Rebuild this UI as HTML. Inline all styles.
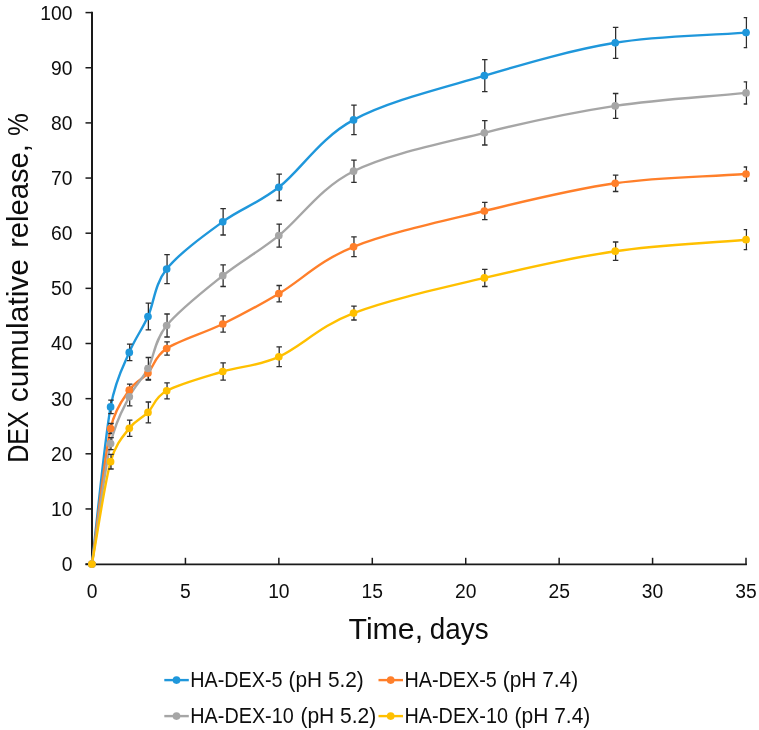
<!DOCTYPE html>
<html><head><meta charset="utf-8"><title>DEX cumulative release</title>
<style>
html,body{margin:0;padding:0;background:#fff;}
body{width:759px;height:730px;overflow:hidden;font-family:"Liberation Sans",sans-serif;}
svg{display:block;will-change:transform;}
</style></head><body>
<svg width="759" height="730" viewBox="0 0 759 730">
<defs><clipPath id="pc"><rect x="85" y="0" width="662.2" height="575"/></clipPath></defs>
<path d="M92,11.8 V565.2" stroke="#1a1a1a" stroke-width="2.0" fill="none"/>
<path d="M85.5,564.35 H746.8" stroke="#1a1a1a" stroke-width="1.7" fill="none"/>
<g stroke="#1a1a1a" stroke-width="1.5" fill="none">
<path d="M85.5,564.10 H92"/>
<path d="M85.5,508.95 H92"/>
<path d="M85.5,453.80 H92"/>
<path d="M85.5,398.65 H92"/>
<path d="M85.5,343.50 H92"/>
<path d="M85.5,288.35 H92"/>
<path d="M85.5,233.20 H92"/>
<path d="M85.5,178.05 H92"/>
<path d="M85.5,122.90 H92"/>
<path d="M85.5,67.75 H92"/>
<path d="M85.5,12.60 H92"/>
<path d="M92.00,557.8 V565.0"/>
<path d="M185.43,557.8 V565.0"/>
<path d="M278.86,557.8 V565.0"/>
<path d="M372.29,557.8 V565.0"/>
<path d="M465.72,557.8 V565.0"/>
<path d="M559.15,557.8 V565.0"/>
<path d="M652.58,557.8 V565.0"/>
<path d="M746.01,557.8 V565.0"/>
</g>
<path d="M91.90,564.10 C98.13,511.70 104.36,442.18 110.59,406.90 C115.60,378.53 124.27,364.51 129.28,352.40 C135.51,337.33 141.74,330.38 147.97,316.50 C154.20,302.62 154.20,284.88 166.66,269.10 C179.12,253.32 204.04,235.43 222.73,221.80 C241.42,208.17 257.00,204.28 278.80,187.30 C300.61,170.32 319.30,138.50 353.56,119.90 C387.83,101.30 440.78,88.55 484.39,75.70 C528.00,62.85 571.61,49.98 615.22,42.80 C658.83,35.62 702.44,36.00 746.05,32.60" fill="none" stroke="#1f97db" stroke-width="2.4" stroke-linejoin="round" stroke-linecap="round"/>
<path d="M110.99,400.20 V413.60 M108.24,400.20 h5.5 M108.24,413.60 h5.5 M129.68,344.20 V360.60 M126.93,344.20 h5.5 M126.93,360.60 h5.5 M148.37,303.20 V329.80 M145.62,303.20 h5.5 M145.62,329.80 h5.5 M167.06,254.60 V283.60 M164.31,254.60 h5.5 M164.31,283.60 h5.5 M223.13,208.60 V235.00 M220.38,208.60 h5.5 M220.38,235.00 h5.5 M279.20,174.10 V200.50 M276.45,174.10 h5.5 M276.45,200.50 h5.5 M353.96,105.10 V134.70 M351.21,105.10 h5.5 M351.21,134.70 h5.5 M484.79,59.70 V91.70 M482.04,59.70 h5.5 M482.04,91.70 h5.5 M615.62,27.30 V58.30 M612.87,27.30 h5.5 M612.87,58.30 h5.5 M746.45,17.60 V47.60 M743.70,17.60 h5.5 M743.70,47.60 h5.5" fill="none" stroke="#2e2e2e" stroke-width="1.3" clip-path="url(#pc)"/>
<path d="M91.90,564.10 C98.13,518.90 104.36,457.48 110.59,428.50 C115.07,407.67 124.80,396.84 129.28,390.20 C135.51,380.97 141.74,380.05 147.97,373.10 C154.20,366.15 154.20,356.68 166.66,348.50 C179.12,340.32 204.04,333.13 222.73,324.00 C241.42,314.87 257.00,306.57 278.80,293.70 C300.61,280.83 319.30,260.58 353.56,246.80 C387.83,233.02 440.78,221.58 484.39,211.00 C528.00,200.42 571.61,189.47 615.22,183.30 C658.83,177.13 702.44,177.10 746.05,174.00" fill="none" stroke="#ff7f2a" stroke-width="2.4" stroke-linejoin="round" stroke-linecap="round"/>
<path d="M110.99,423.50 V433.50 M108.24,423.50 h5.5 M108.24,433.50 h5.5 M129.68,384.20 V396.20 M126.93,384.20 h5.5 M126.93,396.20 h5.5 M148.37,366.10 V380.10 M145.62,366.10 h5.5 M145.62,380.10 h5.5 M167.06,341.80 V355.20 M164.31,341.80 h5.5 M164.31,355.20 h5.5 M223.13,315.80 V332.20 M220.38,315.80 h5.5 M220.38,332.20 h5.5 M279.20,285.50 V301.90 M276.45,285.50 h5.5 M276.45,301.90 h5.5 M353.96,236.90 V256.70 M351.21,236.90 h5.5 M351.21,256.70 h5.5 M484.79,202.40 V219.60 M482.04,202.40 h5.5 M482.04,219.60 h5.5 M615.62,175.10 V191.50 M612.87,175.10 h5.5 M612.87,191.50 h5.5 M746.45,167.00 V181.00 M743.70,167.00 h5.5 M743.70,181.00 h5.5" fill="none" stroke="#2e2e2e" stroke-width="1.3" clip-path="url(#pc)"/>
<path d="M91.90,564.10 C98.13,523.93 104.36,471.48 110.59,443.60 C116.08,419.01 123.79,407.84 129.28,396.80 C135.51,384.28 141.74,380.38 147.97,368.50 C154.20,356.62 154.20,340.97 166.66,325.50 C179.12,310.03 204.04,290.68 222.73,275.70 C241.42,260.72 257.00,253.02 278.80,235.60 C300.61,218.18 319.30,188.33 353.56,171.20 C387.83,154.07 440.78,143.68 484.39,132.80 C528.00,121.92 571.61,112.55 615.22,105.90 C658.83,99.25 702.44,97.23 746.05,92.90" fill="none" stroke="#a6a6a6" stroke-width="2.4" stroke-linejoin="round" stroke-linecap="round"/>
<path d="M110.99,437.60 V449.60 M108.24,437.60 h5.5 M108.24,449.60 h5.5 M129.68,387.80 V405.80 M126.93,387.80 h5.5 M126.93,405.80 h5.5 M148.37,357.50 V379.50 M145.62,357.50 h5.5 M145.62,379.50 h5.5 M167.06,314.00 V337.00 M164.31,314.00 h5.5 M164.31,337.00 h5.5 M223.13,264.90 V286.50 M220.38,264.90 h5.5 M220.38,286.50 h5.5 M279.20,224.10 V247.10 M276.45,224.10 h5.5 M276.45,247.10 h5.5 M353.96,160.10 V182.30 M351.21,160.10 h5.5 M351.21,182.30 h5.5 M484.79,120.60 V145.00 M482.04,120.60 h5.5 M482.04,145.00 h5.5 M615.62,93.50 V118.30 M612.87,93.50 h5.5 M612.87,118.30 h5.5 M746.45,81.80 V104.00 M743.70,81.80 h5.5 M743.70,104.00 h5.5" fill="none" stroke="#2e2e2e" stroke-width="1.3" clip-path="url(#pc)"/>
<path d="M91.90,564.10 C98.13,529.97 104.36,484.33 110.59,461.70 C115.67,443.25 124.20,435.00 129.28,428.30 C135.51,420.08 141.74,418.65 147.97,412.40 C154.20,406.15 154.20,397.62 166.66,390.80 C179.12,383.98 204.04,377.17 222.73,371.50 C241.42,365.83 257.00,366.53 278.80,356.80 C300.61,347.07 319.30,326.25 353.56,313.10 C387.83,299.95 440.78,288.22 484.39,277.90 C528.00,267.58 571.61,257.57 615.22,251.20 C658.83,244.83 702.44,243.53 746.05,239.70" fill="none" stroke="#ffc000" stroke-width="2.4" stroke-linejoin="round" stroke-linecap="round"/>
<path d="M110.99,454.40 V469.00 M108.24,454.40 h5.5 M108.24,469.00 h5.5 M129.68,420.20 V436.40 M126.93,420.20 h5.5 M126.93,436.40 h5.5 M148.37,402.00 V422.80 M145.62,402.00 h5.5 M145.62,422.80 h5.5 M167.06,382.80 V398.80 M164.31,382.80 h5.5 M164.31,398.80 h5.5 M223.13,362.90 V380.10 M220.38,362.90 h5.5 M220.38,380.10 h5.5 M279.20,346.90 V366.70 M276.45,346.90 h5.5 M276.45,366.70 h5.5 M353.96,306.20 V320.00 M351.21,306.20 h5.5 M351.21,320.00 h5.5 M484.79,269.30 V286.50 M482.04,269.30 h5.5 M482.04,286.50 h5.5 M615.62,242.00 V260.40 M612.87,242.00 h5.5 M612.87,260.40 h5.5 M746.45,229.70 V249.70 M743.70,229.70 h5.5 M743.70,249.70 h5.5" fill="none" stroke="#2e2e2e" stroke-width="1.3" clip-path="url(#pc)"/>
<circle cx="91.90" cy="564.10" r="3.85" fill="#1f97db"/>
<circle cx="110.59" cy="406.90" r="3.85" fill="#1f97db"/>
<circle cx="129.28" cy="352.40" r="3.85" fill="#1f97db"/>
<circle cx="147.97" cy="316.50" r="3.85" fill="#1f97db"/>
<circle cx="166.66" cy="269.10" r="3.85" fill="#1f97db"/>
<circle cx="222.73" cy="221.80" r="3.85" fill="#1f97db"/>
<circle cx="278.80" cy="187.30" r="3.85" fill="#1f97db"/>
<circle cx="353.56" cy="119.90" r="3.85" fill="#1f97db"/>
<circle cx="484.39" cy="75.70" r="3.85" fill="#1f97db"/>
<circle cx="615.22" cy="42.80" r="3.85" fill="#1f97db"/>
<circle cx="746.05" cy="32.60" r="3.85" fill="#1f97db"/>
<circle cx="91.90" cy="564.10" r="3.85" fill="#ff7f2a"/>
<circle cx="110.59" cy="428.50" r="3.85" fill="#ff7f2a"/>
<circle cx="129.28" cy="390.20" r="3.85" fill="#ff7f2a"/>
<circle cx="147.97" cy="373.10" r="3.85" fill="#ff7f2a"/>
<circle cx="166.66" cy="348.50" r="3.85" fill="#ff7f2a"/>
<circle cx="222.73" cy="324.00" r="3.85" fill="#ff7f2a"/>
<circle cx="278.80" cy="293.70" r="3.85" fill="#ff7f2a"/>
<circle cx="353.56" cy="246.80" r="3.85" fill="#ff7f2a"/>
<circle cx="484.39" cy="211.00" r="3.85" fill="#ff7f2a"/>
<circle cx="615.22" cy="183.30" r="3.85" fill="#ff7f2a"/>
<circle cx="746.05" cy="174.00" r="3.85" fill="#ff7f2a"/>
<circle cx="91.90" cy="564.10" r="3.85" fill="#a6a6a6"/>
<circle cx="110.59" cy="443.60" r="3.85" fill="#a6a6a6"/>
<circle cx="129.28" cy="396.80" r="3.85" fill="#a6a6a6"/>
<circle cx="147.97" cy="368.50" r="3.85" fill="#a6a6a6"/>
<circle cx="166.66" cy="325.50" r="3.85" fill="#a6a6a6"/>
<circle cx="222.73" cy="275.70" r="3.85" fill="#a6a6a6"/>
<circle cx="278.80" cy="235.60" r="3.85" fill="#a6a6a6"/>
<circle cx="353.56" cy="171.20" r="3.85" fill="#a6a6a6"/>
<circle cx="484.39" cy="132.80" r="3.85" fill="#a6a6a6"/>
<circle cx="615.22" cy="105.90" r="3.85" fill="#a6a6a6"/>
<circle cx="746.05" cy="92.90" r="3.85" fill="#a6a6a6"/>
<circle cx="91.90" cy="564.10" r="3.85" fill="#ffc000"/>
<circle cx="110.59" cy="461.70" r="3.85" fill="#ffc000"/>
<circle cx="129.28" cy="428.30" r="3.85" fill="#ffc000"/>
<circle cx="147.97" cy="412.40" r="3.85" fill="#ffc000"/>
<circle cx="166.66" cy="390.80" r="3.85" fill="#ffc000"/>
<circle cx="222.73" cy="371.50" r="3.85" fill="#ffc000"/>
<circle cx="278.80" cy="356.80" r="3.85" fill="#ffc000"/>
<circle cx="353.56" cy="313.10" r="3.85" fill="#ffc000"/>
<circle cx="484.39" cy="277.90" r="3.85" fill="#ffc000"/>
<circle cx="615.22" cy="251.20" r="3.85" fill="#ffc000"/>
<circle cx="746.05" cy="239.70" r="3.85" fill="#ffc000"/>
<g font-family="Liberation Sans, sans-serif" fill="#0d0d0d">
<text x="72.5" y="571.00" font-size="19.3" text-anchor="end">0</text>
<text x="72.5" y="515.85" font-size="19.3" text-anchor="end">10</text>
<text x="72.5" y="460.70" font-size="19.3" text-anchor="end">20</text>
<text x="72.5" y="405.55" font-size="19.3" text-anchor="end">30</text>
<text x="72.5" y="350.40" font-size="19.3" text-anchor="end">40</text>
<text x="72.5" y="295.25" font-size="19.3" text-anchor="end">50</text>
<text x="72.5" y="240.10" font-size="19.3" text-anchor="end">60</text>
<text x="72.5" y="184.95" font-size="19.3" text-anchor="end">70</text>
<text x="72.5" y="129.80" font-size="19.3" text-anchor="end">80</text>
<text x="72.5" y="74.65" font-size="19.3" text-anchor="end">90</text>
<text x="72.5" y="19.50" font-size="19.3" text-anchor="end">100</text>
<text x="92.00" y="598.3" font-size="19.3" text-anchor="middle">0</text>
<text x="185.43" y="598.3" font-size="19.3" text-anchor="middle">5</text>
<text x="278.86" y="598.3" font-size="19.3" text-anchor="middle">10</text>
<text x="372.29" y="598.3" font-size="19.3" text-anchor="middle">15</text>
<text x="465.72" y="598.3" font-size="19.3" text-anchor="middle">20</text>
<text x="559.15" y="598.3" font-size="19.3" text-anchor="middle">25</text>
<text x="652.58" y="598.3" font-size="19.3" text-anchor="middle">30</text>
<text x="746.01" y="598.3" font-size="19.3" text-anchor="middle">35</text>
<text x="348.53" y="639.0" font-size="29" textLength="74.55" lengthAdjust="spacingAndGlyphs">Time,</text>
<text x="429.83" y="639.0" font-size="29" textLength="58.77" lengthAdjust="spacingAndGlyphs">days</text>
<text transform="translate(28.2,460.80) rotate(-90)" x="-2.05" y="0" font-size="29" textLength="51.48" lengthAdjust="spacingAndGlyphs">DEX</text>
<text transform="translate(28.2,401.00) rotate(-90)" x="-1.27" y="0" font-size="29" textLength="143.31" lengthAdjust="spacingAndGlyphs">cumulative</text>
<text transform="translate(28.2,245.90) rotate(-90)" x="-1.93" y="0" font-size="29" textLength="103.55" lengthAdjust="spacingAndGlyphs">release,</text>
<text transform="translate(28.2,135.00) rotate(-90)" x="-0.92" y="0" font-size="29" textLength="22.83" lengthAdjust="spacingAndGlyphs">%</text>
<path d="M164.3,680.1 h24.5" stroke="#1f97db" stroke-width="2.4" fill="none" stroke-linecap="butt"/>
<circle cx="176.5" cy="680.1" r="3.85" fill="#1f97db"/>
<text x="190.28" y="687.0" font-size="22.4" textLength="92.25" lengthAdjust="spacingAndGlyphs">HA-DEX-5</text>
<text x="288.61" y="687.0" font-size="22.4" textLength="75.18" lengthAdjust="spacingAndGlyphs">(pH 5.2)</text>
<path d="M378.5,680.1 h24.5" stroke="#ff7f2a" stroke-width="2.4" fill="none" stroke-linecap="butt"/>
<circle cx="390.7" cy="680.1" r="3.85" fill="#ff7f2a"/>
<text x="404.48" y="687.0" font-size="22.4" textLength="92.25" lengthAdjust="spacingAndGlyphs">HA-DEX-5</text>
<text x="502.81" y="687.0" font-size="22.4" textLength="75.39" lengthAdjust="spacingAndGlyphs">(pH 7.4)</text>
<path d="M164.3,716.1 h24.5" stroke="#a6a6a6" stroke-width="2.4" fill="none" stroke-linecap="butt"/>
<circle cx="176.5" cy="716.1" r="3.85" fill="#a6a6a6"/>
<text x="190.27" y="723.0" font-size="22.4" textLength="103.50" lengthAdjust="spacingAndGlyphs">HA-DEX-10</text>
<text x="300.40" y="723.0" font-size="22.4" textLength="75.91" lengthAdjust="spacingAndGlyphs">(pH 5.2)</text>
<path d="M378.5,716.1 h24.5" stroke="#ffc000" stroke-width="2.4" fill="none" stroke-linecap="butt"/>
<circle cx="390.7" cy="716.1" r="3.85" fill="#ffc000"/>
<text x="404.47" y="723.0" font-size="22.4" textLength="103.50" lengthAdjust="spacingAndGlyphs">HA-DEX-10</text>
<text x="514.60" y="723.0" font-size="22.4" textLength="75.70" lengthAdjust="spacingAndGlyphs">(pH 7.4)</text>
</g>
</svg>
</body></html>
